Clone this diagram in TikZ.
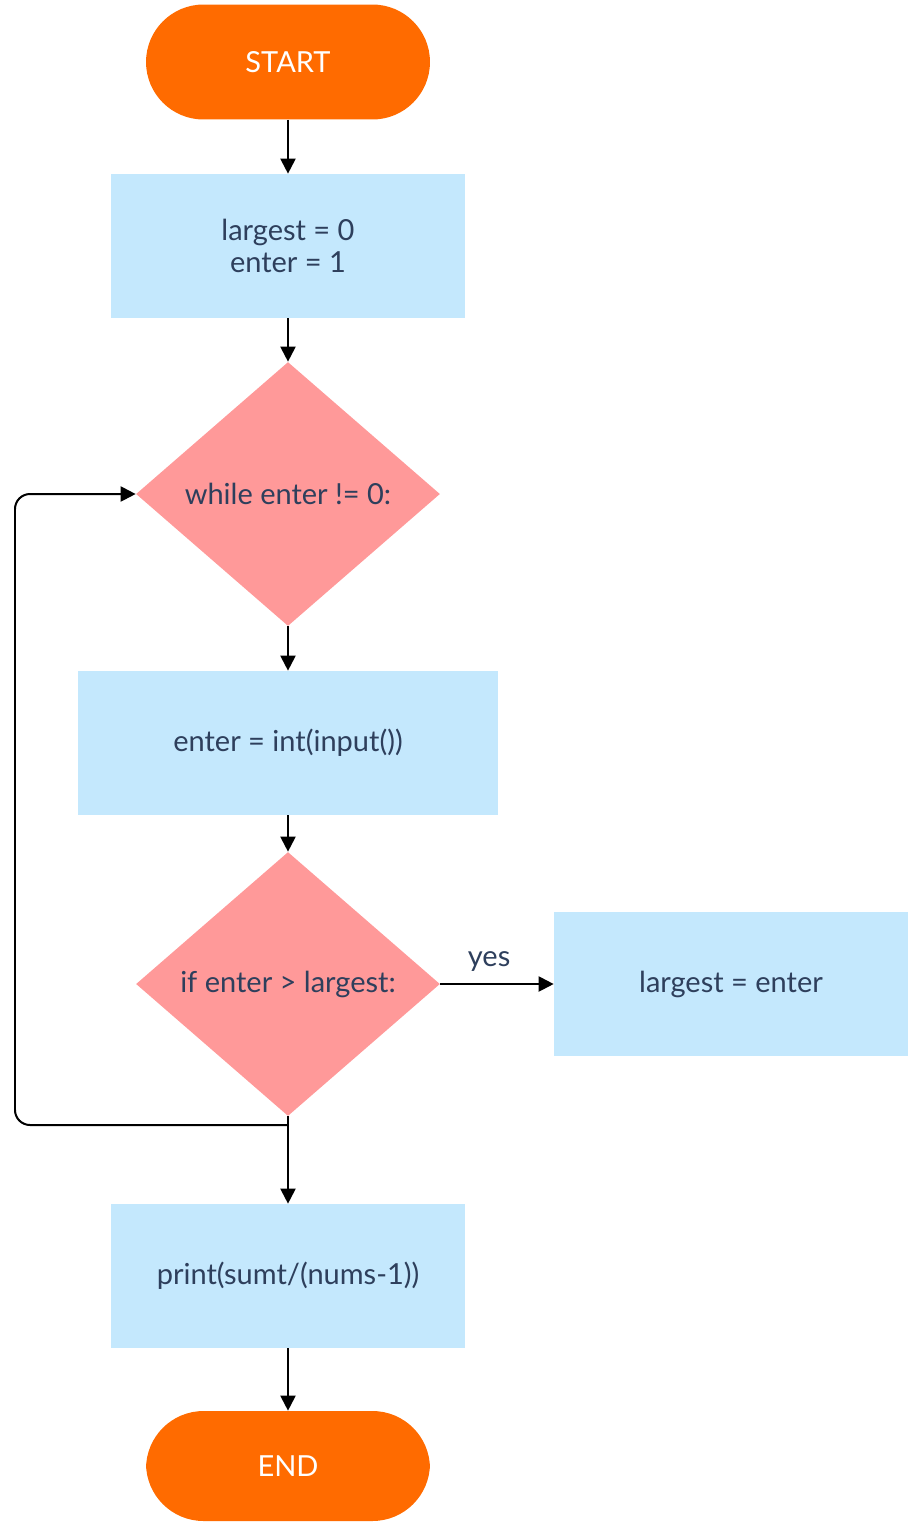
\documentclass[tikz,border=0pt]{standalone}
\usepackage{fontspec}
\setmainfont{Lato}
\usetikzlibrary{shapes.geometric,arrows.meta}

\definecolor{termorange}{HTML}{FF6B00}
\definecolor{procblue}{HTML}{C4E8FD}
\definecolor{decpink}{HTML}{FF9999}
\definecolor{textnavy}{HTML}{2E3F5C}

\begin{document}
\begin{tikzpicture}[x=0.02cm,y=-0.02cm,
    font=\fontsize{16.5}{18}\selectfont,
    terminal/.style={rounded corners=1.15cm,fill=termorange,text=white,
        minimum width=5.68cm,minimum height=2.3cm,inner sep=0pt},
    process/.style={rectangle,fill=procblue,text=textnavy,align=center,
        minimum width=7.08cm,minimum height=2.88cm,inner sep=0pt},
    decision/.style={diamond,fill=decpink,text=textnavy,aspect=1.15,
        minimum width=6.08cm,minimum height=5.28cm,inner sep=0pt},
    arrow/.style={-{Triangle[length=0.3cm,width=0.3cm]},line width=0.04cm}]
    \useasboundingbox (0,0) rectangle (908,1522);

    \node[terminal] (start) at (288,62) {START};
    \node[process] (init) at (288,246) {largest = 0\\enter = 1};
    \node[decision] (loop) at (288,494) {while enter != 0:};
    \node[process,minimum width=8.4cm] (read) at (288,743) {enter = int(input())};
    \node[decision] (check) at (288,984) {if enter > largest:};
    \node[process] (update) at (731,984) {largest = enter};
    \node[process] (result) at (288,1276) {print(sumt/(nums-1))};
    \node[terminal,minimum height=2.2cm] (stop) at (288,1466) {END};
    \coordinate (split) at (288,1125);

    \draw[arrow] (start) -- (init);
    \draw[arrow] (init) -- (loop);
    \draw[arrow] (loop) -- (read);
    \draw[arrow] (read) -- (check);
    \draw[arrow] (check.east) -- (update.west) node[pos=0.43,above=3pt,text=textnavy] {yes};
    \draw[arrow] (check.south) -- (result.north);
    \draw[arrow,rounded corners=0.3cm] (split) -- (15,1125) -- (15,494) -- (loop.west);
    \draw[arrow] (result) -- (stop);
\end{tikzpicture}
\end{document}
